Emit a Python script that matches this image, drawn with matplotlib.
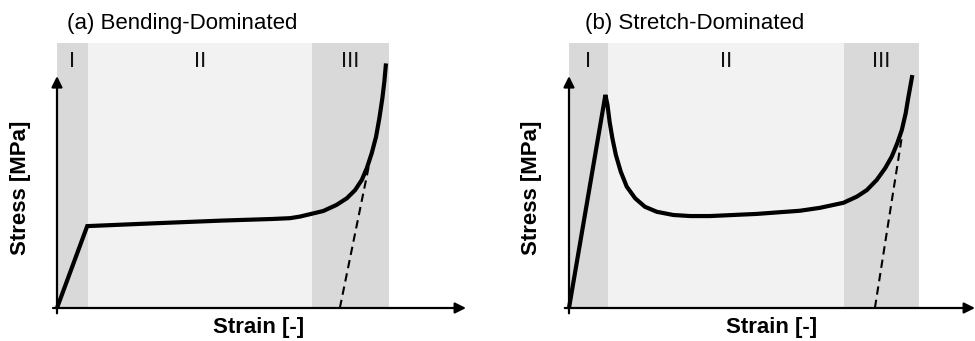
import matplotlib
matplotlib.use("Agg")
import matplotlib.pyplot as plt

plt.rcParams["font.family"] = ["Liberation Sans", "DejaVu Sans"]

# region boundaries (normalized strain), per panel
regions_a = [0.0, 0.093, 0.768, 1.0]
regions_b = [0.0, 0.111, 0.786, 1.0]
region_labels = ["I", "II", "III"]

# (a) bending-dominated curve
strain_a = [0.0, 0.091, 0.30, 0.50, 0.65, 0.702, 0.732, 0.762, 0.802, 0.842, 0.873,
            0.898, 0.918, 0.933, 0.948, 0.961, 0.971, 0.980, 0.986, 0.991]
stress_a = [0.0, 0.309, 0.320, 0.330, 0.336, 0.339, 0.345, 0.354, 0.366, 0.389, 0.414,
            0.445, 0.483, 0.527, 0.584, 0.646, 0.716, 0.791, 0.854, 0.923]
unload_a_x = [0.852, 0.943]
unload_a_y = [0.0, 0.558]

# (b) stretch-dominated curve
strain_b = [0.0, 0.104, 0.110, 0.116, 0.124, 0.134, 0.148, 0.165, 0.189, 0.217,
            0.251, 0.298, 0.346, 0.403, 0.536, 0.660, 0.717, 0.784, 0.822, 0.851,
            0.879, 0.903, 0.922, 0.938, 0.951, 0.962, 0.969, 0.976, 0.981]
stress_b = [0.0, 0.804, 0.766, 0.703, 0.640, 0.577, 0.514, 0.458, 0.414, 0.382,
            0.363, 0.351, 0.347, 0.347, 0.355, 0.367, 0.378, 0.397, 0.420, 0.445,
            0.483, 0.527, 0.571, 0.622, 0.672, 0.735, 0.791, 0.842, 0.879]
unload_b_x = [0.874, 0.951]
unload_b_y = [0.0, 0.646]

titles = ["(a) Bending-Dominated", "(b) Stretch-Dominated"]

shade = ["#d9d9d9", "#f2f2f2", "#d9d9d9"]


def draw_panel(ax, regions, sx, sy, ux, uy, title, xmax, title_x, xlab_x, ylab_x):
    ax.set_xlim(0, xmax)
    ax.set_ylim(0, 1)
    ax.axis("off")
    for i, lab in enumerate(region_labels):
        ax.axvspan(regions[i], regions[i + 1], ymin=0, ymax=1, color=shade[i], lw=0, zorder=0)
        ax.text((regions[i] + regions[i + 1]) / 2, 0.93, lab, ha="center", va="center",
                fontsize=16, color="#111111")
    # axes arrows
    arrow = dict(arrowstyle="-|>", lw=1.6, color="black", mutation_scale=16, shrinkA=0, shrinkB=0)
    ax.annotate("", xy=(0, 0.875), xytext=(0, -0.02), arrowprops=arrow, annotation_clip=False)
    ax.annotate("", xy=(xmax, 0), xytext=(-0.012, 0), arrowprops=arrow, annotation_clip=False)
    ax.plot(sx, sy, color="black", lw=3.0, solid_joinstyle="miter", solid_capstyle="butt",
            clip_on=False, zorder=3)
    ax.plot(ux, uy, color="black", lw=1.5, ls=(0, (4, 2.5)), clip_on=False, zorder=3)
    ax.text(title_x, 1.075, title, ha="left", va="center", fontsize=16)
    ax.text(xlab_x, -0.075, "Strain [-]", ha="center", va="center",
            fontsize=16, fontweight="bold")
    ax.text(ylab_x, 0.453, "Stress [MPa]", ha="center", va="center", rotation=90,
            fontsize=16, fontweight="bold")


fig = plt.figure(figsize=(9.75, 3.41), dpi=100)
ax_a = fig.add_axes([57 / 975, 33 / 341, 409 / 975, 265 / 341])
ax_b = fig.add_axes([569 / 975, 33 / 341, 406 / 975, 265 / 341])

draw_panel(ax_a, regions_a, strain_a, stress_a, unload_a_x, unload_a_y, titles[0],
           1.232, 0.03, 0.608, -0.111)
draw_panel(ax_b, regions_b, strain_b, stress_b, unload_b_x, unload_b_y, titles[1],
           1.16, 0.046, 0.58, -0.106)

fig.savefig("out.png", dpi=100)
